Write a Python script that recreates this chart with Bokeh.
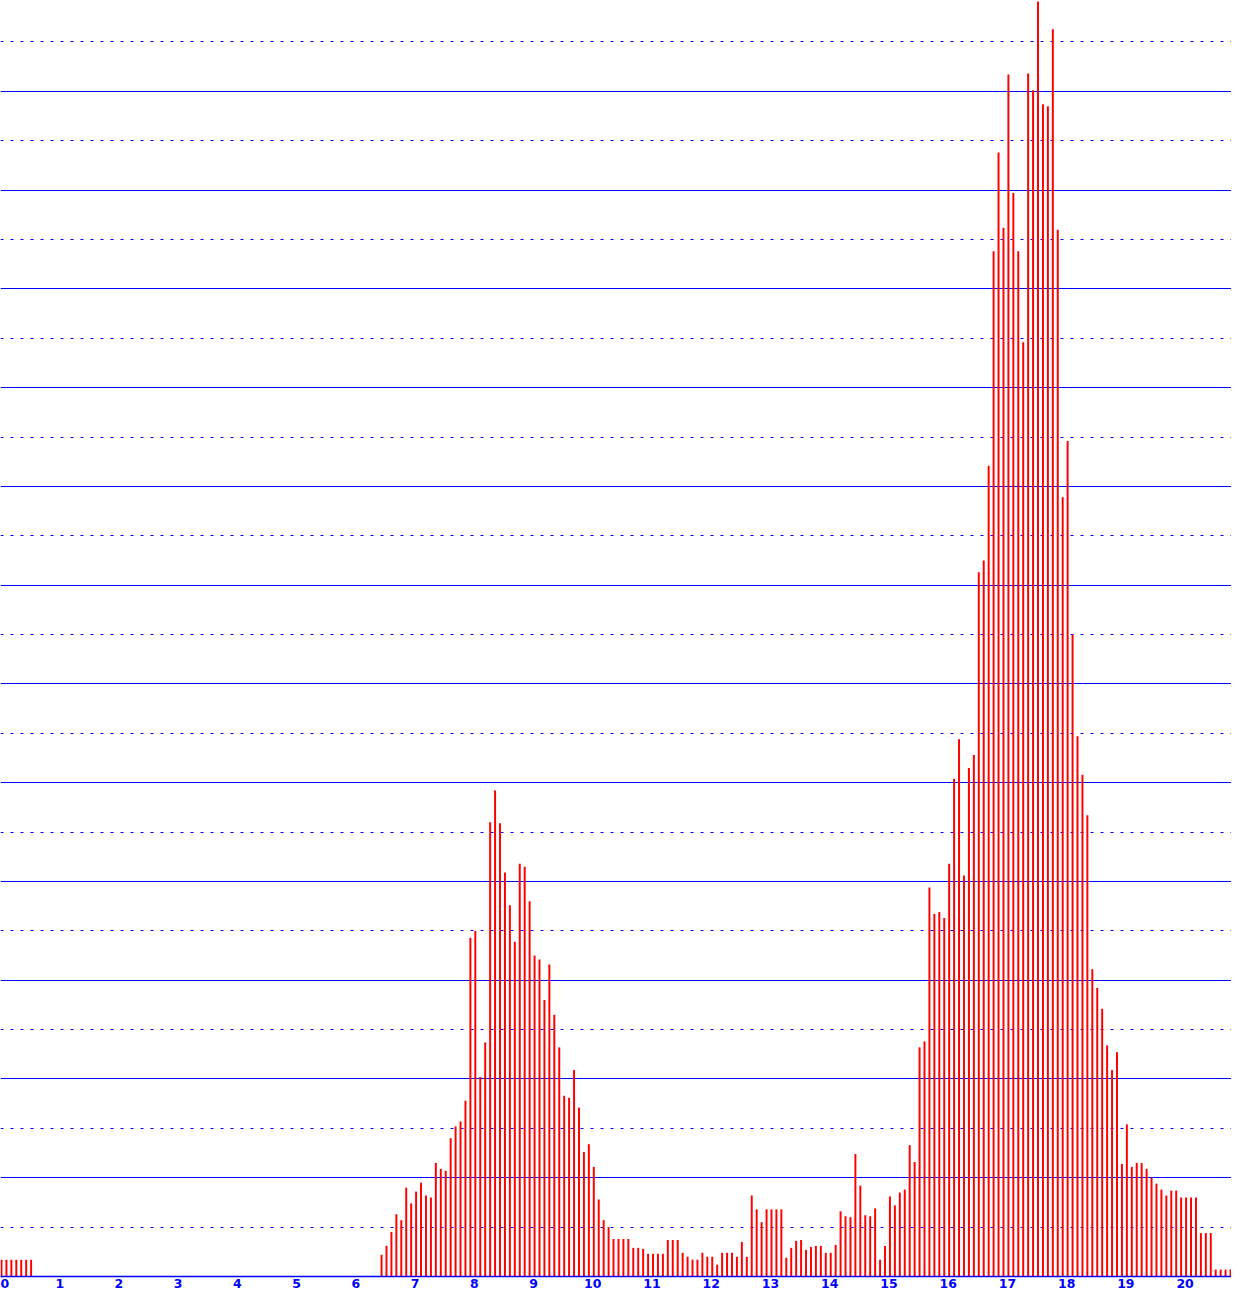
from bokeh.plotting import figure
from bokeh.models import ColumnDataSource, FixedTicker, Grid, Range1d
from bokeh.embed import file_html
from bokeh.resources import INLINE

# 5-minute slots starting at 0:00
counts = [
    17, 17, 17, 17, 17, 17, 17,
    0, 0, 0, 0, 0, 0, 0, 0, 0, 0, 0, 0, 0, 0, 0, 0, 0, 0, 0, 0, 0, 0, 0, 0,
    0, 0, 0, 0, 0, 0, 0, 0, 0, 0, 0, 0, 0, 0, 0, 0, 0, 0, 0, 0, 0, 0, 0, 0,
    0, 0, 0, 0, 0, 0, 0, 0, 0, 0, 0, 0, 0, 0, 0, 0, 0, 0, 0, 0, 0, 0,
    22, 31, 45, 63, 57, 90, 74, 86, 95, 82, 80, 115, 109, 107, 140, 152, 157, 178,
    343, 350, 202, 237, 460, 492, 459, 409, 376, 339, 418, 415, 380, 325,
    321, 280, 316, 265, 232, 183, 181, 209, 171, 126, 134, 111,
    78, 57, 50, 38, 38, 38, 38, 29, 29, 28, 23, 23, 23, 23, 37, 37, 37, 24, 20, 17,
    17, 24, 20, 20, 12, 24, 24, 24, 20, 35, 20, 82, 68, 55, 68, 68, 68, 68, 19, 29,
    36, 37, 27, 30, 31, 31, 24, 24, 32, 66, 61, 60, 124, 92, 62, 61, 69, 17, 31, 81,
    72, 85, 88, 133, 116, 232, 238, 394, 367, 369, 363, 418, 504, 544, 406, 515,
    528, 713, 725, 821, 1038, 1138, 1062, 1217, 1097, 1038, 946, 1218, 1201, 1291,
    1187, 1185, 1263, 1060, 789, 846, 650, 547, 508, 467, 311, 292, 271, 234, 209,
    227, 114, 154, 111, 115, 115, 109, 100, 94, 88, 82, 87, 87, 80, 80, 80, 80,
    44, 44, 44, 7, 7, 7, 7, 7,
]
slot_minutes = 5
hour_ticks = list(range(0, 21))
hour_labels = [str(h) for h in hour_ticks]
solid_levels = [100, 200, 300, 400, 500, 600, 700, 800, 900, 1000, 1100, 1200]
dotted_levels = [50, 150, 250, 350, 450, 550, 650, 750, 850, 950, 1050, 1150, 1250]

start = [i * slot_minutes / 60 for i in range(len(counts))]
end = [s + 2 / 60 for s in start]
src = ColumnDataSource(dict(left=start, right=end, top=counts, bottom=[0] * len(counts)))

BLUE = "#0000ff"
RED = "#ff0000"

p = figure(width=1231, height=1296, output_backend="svg", toolbar_location=None,
           x_range=Range1d(0, 1247 / 60), y_range=Range1d(0, 1292),
           y_axis_location=None, min_border_left=0, min_border_right=0,
           min_border_top=0, min_border_bottom=20)
p.outline_line_color = None
p.background_fill_color = "white"
p.border_fill_color = "white"

p.xgrid.visible = False
p.ygrid.ticker = FixedTicker(ticks=solid_levels)
p.ygrid.grid_line_color = BLUE
p.ygrid.grid_line_width = 1
p.ygrid.grid_line_alpha = 1.0

dot_grid = Grid(dimension=1, ticker=FixedTicker(ticks=dotted_levels),
                grid_line_color=BLUE, grid_line_width=1, grid_line_dash="3 7")
p.add_layout(dot_grid)

p.quad(left="left", right="right", top="top", bottom="bottom", source=src,
       fill_color=RED, line_color=None)

ax = p.xaxis[0]
ax.ticker = FixedTicker(ticks=hour_ticks)
ax.major_label_overrides = {h: lab for h, lab in zip(hour_ticks, hour_labels)}
ax.axis_line_color = BLUE
ax.axis_line_width = 1.5
ax.major_tick_line_color = None
ax.minor_tick_line_color = None
ax.major_tick_out = 0
ax.major_tick_in = 0
ax.major_label_standoff = 2
ax.major_label_text_align = "left"
ax.major_label_text_color = BLUE
ax.major_label_text_font = "DejaVu Sans"
ax.major_label_text_font_size = "12.5px"
ax.major_label_text_font_style = "bold"

open("out.html", "w").write(file_html(p, INLINE))
